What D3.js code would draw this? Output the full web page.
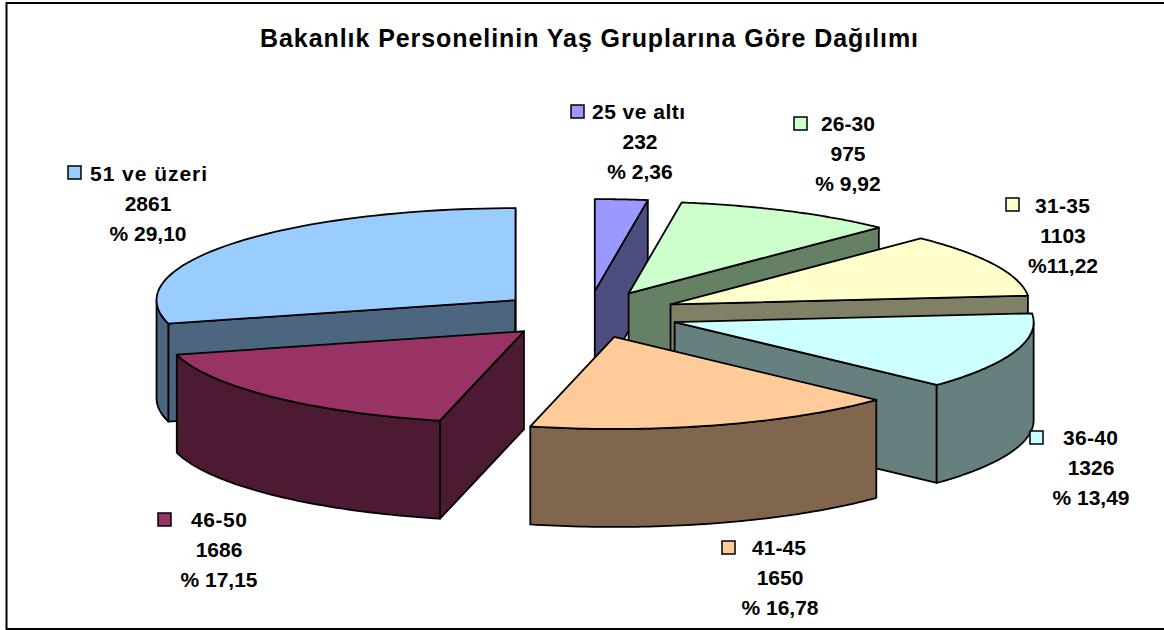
<!DOCTYPE html>
<html><head><meta charset="utf-8">
<script src="https://cdn.jsdelivr.net/npm/d3@7"></script>
<style>html,body{margin:0;padding:0;background:#fff;overflow:hidden}svg{display:block}
text{font-family:"Liberation Sans",Arial,sans-serif;font-weight:bold;fill:#000}</style>
</head><body><div id="c"></div>
<script>
const chartTitle = "Bakanlık Personelinin Yaş Gruplarına Göre Dağılımı";
const categories = ["25 ve altı","26-30","31-35","36-40","41-45","46-50","51 ve üzeri"];
const values = [232,975,1103,1326,1650,1686,2861];
const percentLabels = ["% 2,36","% 9,92","%11,22","% 13,49","% 16,78","% 17,15","% 29,10"];
const colors = ["#9999FF","#CCFFCC","#FFFFCC","#CCFFFF","#FFCC99","#993366","#99CCFF"];

// layout
const W=1164,H=630,cx=588,cy=314.5,rx=359,ry=92,depth=98,explode=0.255;
const paintOrder=[0,1,2,6,3,5,4];
const labelLayout=[
 {kx:571,ky:105,tx:592,tw:93,c:640,y:119},
 {kx:794,ky:117,tx:821,tw:54,c:848,y:131},
 {kx:1006,ky:198,tx:1035,tw:55,c:1063,y:213},
 {kx:1030,ky:431,tx:1063,tw:55,c:1091,y:445},
 {kx:722,ky:541,tx:752,tw:54,c:780,y:555},
 {kx:158,ky:513,tx:191,tw:56,c:219,y:527},
 {kx:68,ky:166,tx:90,tw:117,c:148,y:181}
];

const svg=d3.select("#c").append("svg").attr("width",W).attr("height",H);
svg.append("rect").attr("x",6.5).attr("y",3).attr("width",W+20).attr("height",626)
  .attr("fill","#fff").attr("stroke","#000").attr("stroke-width",2);
svg.append("text").attr("x",260).attr("y",47).attr("font-size",25)
  .attr("textLength",658).attr("lengthAdjust","spacing").text(chartTitle);

const arcs=d3.pie().sort(null).startAngle(0).endAngle(2*Math.PI)(values);
const line=d3.line().x(d=>d[0]).y(d=>d[1]);
const closed=pts=>line(pts)+"Z";
const shade=c=>{const r=d3.rgb(c);return d3.rgb(r.r*.5,r.g*.5,r.b*.5).formatHex();};

paintOrder.forEach(i=>{
  const a=arcs[i], mid=(a.startAngle+a.endAngle)/2;
  const ax=cx+explode*rx*Math.sin(mid), ay=cy-explode*ry*Math.cos(mid);
  const P=t=>[ax+rx*Math.sin(t), ay-ry*Math.cos(t)];
  const down=p=>[p[0],p[1]+depth];
  const apex=[ax,ay];
  const steps=d3.range(0,61).map(k=>a.startAngle+(a.endAngle-a.startAngle)*k/60);
  const rim=steps.map(P);
  const dark=shade(colors[i]);
  const g=svg.append("g").attr("stroke","#000").attr("stroke-width",1.8).attr("stroke-linejoin","round");
  // radial walls that face the viewer
  if(Math.sin(a.startAngle)<0){
    const p=P(a.startAngle);
    g.append("path").attr("fill",dark).attr("d",closed([apex,p,down(p),down(apex)]));
  }
  if(Math.sin(a.endAngle)>0){
    const p=P(a.endAngle);
    g.append("path").attr("fill",dark).attr("d",closed([apex,p,down(p),down(apex)]));
  }
  // outer wall, front half only
  const front=steps.filter(t=>Math.cos(t)<=0);
  if(front.length>1){
    const top=front.map(P);
    g.append("path").attr("fill",dark).attr("d",closed(top.concat(top.map(down).reverse())));
  }
  // top face
  g.append("path").attr("fill",colors[i]).attr("d",closed([apex].concat(rim)));
});

categories.forEach((c,i)=>{
  const l=labelLayout[i];
  svg.append("rect").attr("x",l.kx).attr("y",l.ky).attr("width",13).attr("height",13)
    .attr("fill",colors[i]).attr("stroke","#000").attr("stroke-width",1.5);
  svg.append("text").attr("x",l.tx).attr("y",l.y).attr("font-size",21)
    .attr("textLength",l.tw).attr("lengthAdjust","spacing").text(c);
  svg.append("text").attr("x",l.c).attr("y",l.y+30).attr("font-size",21).attr("text-anchor","middle").text(values[i]);
  svg.append("text").attr("x",l.c).attr("y",l.y+60).attr("font-size",21).attr("text-anchor","middle").text(percentLabels[i]);
});
</script></body></html>
